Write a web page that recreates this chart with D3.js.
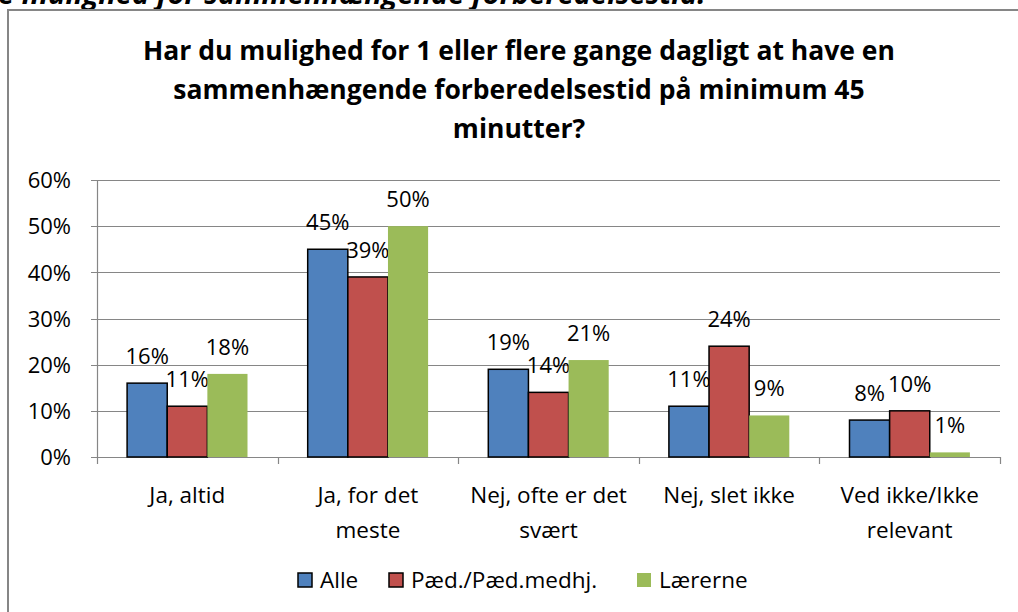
<!DOCTYPE html>
<html>
<head>
<meta charset="utf-8">
<script src="https://cdn.jsdelivr.net/npm/d3@7"></script>
<style>
    body { margin: 0; background: #fff; }
    text { font-family: "Open Sans", "Noto Sans", sans-serif; fill: #000; }
</style>
</head>
<body>
<div class="mainBody"></div>
<script>
var categories = [
    ["Ja, altid"],
    ["Ja, for det", "meste"],
    ["Nej, ofte er det", "svært"],
    ["Nej, slet ikke"],
    ["Ved ikke/Ikke", "relevant"]
];
var seriesNames = ["Alle", "Pæd./Pæd.medhj.", "Lærerne"];
var alle = [0.16, 0.45, 0.19, 0.11, 0.08];
var paed = [0.11, 0.39, 0.14, 0.24, 0.10];
var laererne = [0.18, 0.50, 0.21, 0.09, 0.01];
var yTicks = [0, 0.1, 0.2, 0.3, 0.4, 0.5, 0.6];
var titleLines = [
    "Har du mulighed for 1 eller flere gange dagligt at have en",
    "sammenhængende forberedelsestid på minimum 45",
    "minutter?"
];
var colors = ["#4F81BD", "#C0504D", "#9BBB59"];
var outlined = [true, true, false];

var width = 1018, height = 612;
var plot = { left: 97, right: 1000, top: 180, bottom: 457 };

var svg = d3.select("div.mainBody").append("svg")
    .attr("width", width)
    .attr("height", height);

var keys = categories.map(function (c) { return c.join(" "); });
var values = [alle, paed, laererne];

var x0 = d3.scaleBand()
    .domain(keys)
    .range([plot.left, plot.right])
    .paddingInner(0)
    .paddingOuter(0);
var x1 = d3.scaleBand()
    .domain(seriesNames)
    .range([0, x0.bandwidth()])
    .paddingInner(0)
    .paddingOuter(0.75);
var y = d3.scaleLinear()
    .domain([0, 0.6])
    .range([plot.bottom, plot.top]);

function drawFrame() {
    // heading from the page above, cut off by the screenshot
    svg.append("text")
        .attr("x", -2)
        .attr("y", 4)
        .style("font-weight", "bold")
        .style("font-style", "italic")
        .style("font-size", "29px")
        .text("e mulighed for sammenhængende forberedelsestid.");
    svg.append("rect")
        .attr("x", 8)
        .attr("y", 10)
        .attr("width", width + 20)
        .attr("height", height + 20)
        .attr("fill", "#fff")
        .attr("stroke", "#868686")
        .attr("stroke-width", 2);
}

function drawTitle() {
    svg.append("g").selectAll("text")
        .data(titleLines)
        .enter().append("text")
        .attr("x", 519)
        .attr("y", function (d, i) { return 60 + i * 39; })
        .attr("text-anchor", "middle")
        .style("font-weight", "bold")
        .style("font-size", "26.5px")
        .text(function (d) { return d; });
}

function drawAxes() {
    let grid = svg.append("g").attr("class", "grid");
    grid.selectAll("line")
        .data(yTicks)
        .enter().append("line")
        .attr("x1", plot.left - 6)
        .attr("x2", plot.right)
        .attr("y1", function (d) { return Math.round(y(d)) + 0.5; })
        .attr("y2", function (d) { return Math.round(y(d)) + 0.5; })
        .attr("stroke", "#868686")
        .attr("stroke-width", 1.2);

    let yAxis = d3.axisLeft(y)
        .tickValues(yTicks)
        .tickFormat(d3.format(".0%"))
        .tickSize(0)
        .tickPadding(26);
    let ya = svg.append("g")
        .attr("transform", `translate(${plot.left},0)`)
        .call(yAxis);
    ya.select(".domain").attr("stroke", "#868686").attr("stroke-width", 1.2);
    ya.selectAll("text")
        .style("font-size", "22px")
        .attr("dy", "0.35em");

    let xa = svg.append("g");
    let bounds = keys.map(function (k) { return x0(k); }).concat([plot.right]);
    xa.selectAll("line")
        .data(bounds)
        .enter().append("line")
        .attr("x1", function (d) { return Math.round(d) + 0.5; })
        .attr("x2", function (d) { return Math.round(d) + 0.5; })
        .attr("y1", plot.bottom)
        .attr("y2", plot.bottom + 7)
        .attr("stroke", "#868686")
        .attr("stroke-width", 1.2);
    let labels = xa.selectAll("text")
        .data(categories)
        .enter().append("text")
        .attr("text-anchor", "middle")
        .attr("transform", function (d, i) {
            return `translate(${x0(keys[i]) + x0.bandwidth() / 2},503)`;
        })
        .style("font-size", "22.5px");
    labels.selectAll("tspan")
        .data(function (d) { return d; })
        .enter().append("tspan")
        .attr("x", 0)
        .attr("y", function (d, i) { return i * 35; })
        .text(function (d) { return d; });
}

function drawBars() {
    let groups = svg.append("g").selectAll("g")
        .data(keys)
        .enter().append("g")
        .attr("transform", function (d) { return `translate(${x0(d)},0)`; });
    let cells = groups.selectAll("g")
        .data(function (d, i) {
            return seriesNames.map(function (s, j) {
                return { series: s, idx: j, value: values[j][i] };
            });
        })
        .enter().append("g");
    cells.append("rect")
        .attr("x", function (d) { return x1(d.series); })
        .attr("y", function (d) { return y(d.value); })
        .attr("width", x1.bandwidth())
        .attr("height", function (d) { return plot.bottom - y(d.value); })
        .attr("fill", function (d) { return colors[d.idx]; })
        .attr("stroke", function (d) { return outlined[d.idx] ? "#000" : "none"; })
        .attr("stroke-width", 1.5);
    cells.append("text")
        .attr("x", function (d) { return x1(d.series) + x1.bandwidth() / 2; })
        .attr("y", function (d) { return y(d.value) - 19; })
        .attr("text-anchor", "middle")
        .style("font-size", "22px")
        .text(function (d) { return d3.format(".0%")(d.value); });
}

function drawLegend() {
    let legendX = [298, 389, 637];
    let items = svg.append("g").selectAll("g")
        .data(seriesNames)
        .enter().append("g")
        .attr("transform", function (d, i) { return `translate(${legendX[i]},573)`; });
    items.append("rect")
        .attr("width", 14)
        .attr("height", 14)
        .attr("fill", function (d, i) { return colors[i]; })
        .attr("stroke", function (d, i) { return outlined[i] ? "#000" : "none"; })
        .attr("stroke-width", 1.5);
    items.append("text")
        .attr("x", 22)
        .attr("y", 15)
        .style("font-size", "22.5px")
        .text(function (d) { return d; });
}

drawFrame();
drawTitle();
drawAxes();
drawBars();
drawLegend();
</script>
</body>
</html>
